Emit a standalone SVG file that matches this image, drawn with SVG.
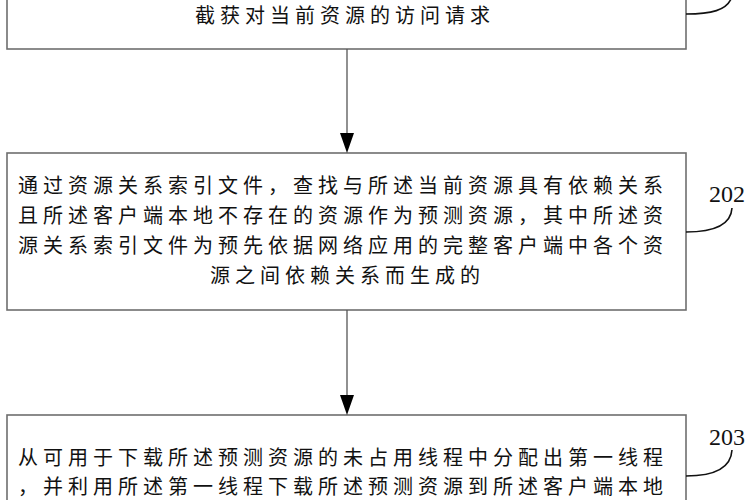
<svg xmlns="http://www.w3.org/2000/svg" width="751" height="500" viewBox="0 0 751 500">
<style>
.box{fill:#fff;stroke:#6e6e6e;stroke-width:1.6}
.t{font-family:"Noto Sans CJK SC","Noto Sans CJK TC",sans-serif;font-size:20px;letter-spacing:5px;fill:#111}
.lbl{font-family:"Liberation Serif",serif;font-size:24px;fill:#111;text-anchor:middle}
.lead{fill:none;stroke:#111;stroke-width:1.6}
.conn{stroke:#555;stroke-width:1.3;fill:none}
.head{fill:#000}
</style>
<rect width="751" height="500" fill="#fff"/>
<g id="node201">
<rect class="box" x="7" y="-10" width="679" height="59"/>
<text class="t" x="195" y="22.5">截获对当前资源的访问请求</text>
<path class="lead" d="M686,14 C712,14 726,10 731,-1"/>
</g>
<g id="node202">
<rect class="box" x="7" y="153" width="679" height="157"/>
<text class="t" x="18" y="192.5">通过资源关系索引文件，查找与所述当前资源具有依赖关系</text>
<text class="t" x="18" y="222.5">且所述客户端本地不存在的资源作为预测资源，其中所述资</text>
<text class="t" x="18" y="252.5">源关系索引文件为预先依据网络应用的完整客户端中各个资</text>
<text class="t" x="210" y="282.5">源之间依赖关系而生成的</text>
<path class="lead" d="M686,232 C714,232 731,225 732,208"/>
<text class="lbl" x="727" y="202">202</text>
</g>
<g id="node203">
<rect class="box" x="7" y="415" width="679" height="110"/>
<text class="t" x="18" y="465">从可用于下载所述预测资源的未占用线程中分配出第一线程</text>
<text class="t" x="18" y="494">，并利用所述第一线程下载所述预测资源到所述客户端本地</text>
<path class="lead" d="M686,476 C714,476 731,468 732,450"/>
<text class="lbl" x="727" y="445">203</text>
</g>
<g id="connectors">
<line class="conn" x1="347" y1="49" x2="347" y2="134"/>
<polygon class="head" points="340,133 354,133 347,153"/>
<line class="conn" x1="347" y1="310" x2="347" y2="396"/>
<polygon class="head" points="340,395 354,395 347,415"/>
</g>
</svg>
